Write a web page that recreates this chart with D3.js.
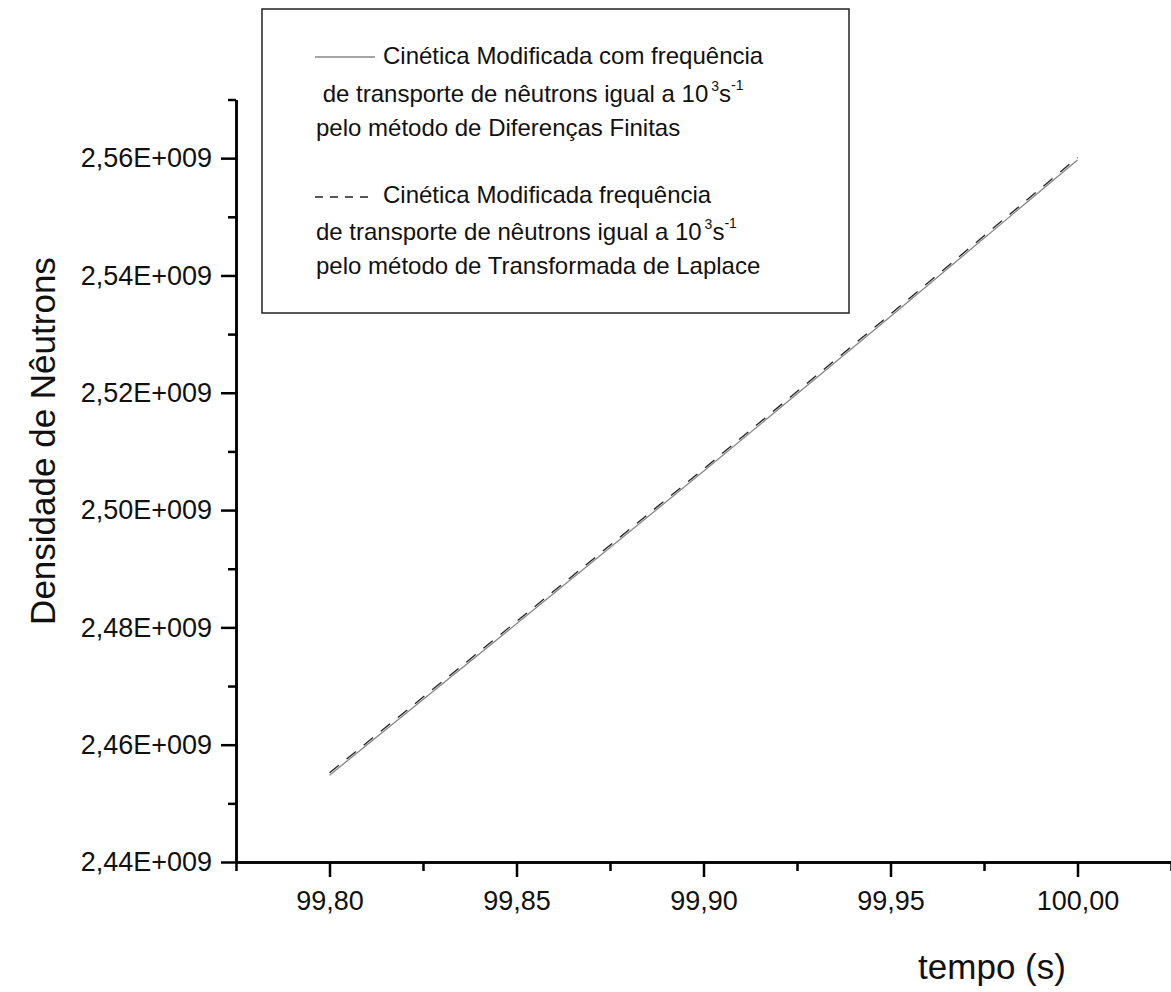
<!DOCTYPE html>
<html>
<head>
<meta charset="utf-8">
<script src="https://cdn.jsdelivr.net/npm/d3@7"></script>
<style>
  html, body { margin: 0; padding: 0; background: #fff; }
  svg { display: block; font-family: "Liberation Sans", Arial, sans-serif; }
</style>
</head>
<body>
<div id="chart"></div>
<script>
// values
const tempo = [99.80, 99.85, 99.90, 99.95, 100.00];
const diferencasFinitas = [2.4548e9, 2.4806e9, 2.5066e9, 2.5330e9, 2.5597e9];
const transformadaLaplace = [2.4552e9, 2.4810e9, 2.5070e9, 2.5334e9, 2.5601e9];

const xTicks = [99.80, 99.85, 99.90, 99.95, 100.00];
const xMinorTicks = [99.775, 99.825, 99.875, 99.925, 99.975, 100.025];
const yTicks = [2.44e9, 2.46e9, 2.48e9, 2.50e9, 2.52e9, 2.54e9, 2.56e9];
const yMinorTicks = [2.45e9, 2.47e9, 2.49e9, 2.51e9, 2.53e9, 2.55e9, 2.57e9];

const width = 1171;
const height = 992;

const svg = d3.select('#chart').append('svg')
  .attr('width', width)
  .attr('height', height);

const x = d3.scaleLinear().domain([99.775, 100.025]).range([236, 1171]);
const y = d3.scaleLinear().domain([2.44e9, 2.57e9]).range([862, 99.5]);

const fmtX = d => d.toFixed(2).replace('.', ',');
const fmtY = d => (d / 1e9).toFixed(2).replace('.', ',') + 'E+009';

function styleAxis(g) {
  g.selectAll('path.domain').attr('stroke', '#000').attr('stroke-width', 2.5);
  g.selectAll('.tick line').attr('stroke', '#000').attr('stroke-width', 2.5);
  g.selectAll('.tick text').attr('fill', '#111').attr('font-size', 27)
    .attr('font-family', '"Liberation Sans", Arial, sans-serif');
}

// minor ticks first, then majors with labels
svg.append('g')
  .attr('transform', `translate(0,${y(2.44e9)})`)
  .call(d3.axisBottom(x).tickValues(xMinorTicks).tickSize(9).tickSizeOuter(0).tickFormat(''))
  .call(styleAxis);
svg.append('g')
  .attr('transform', `translate(0,${y(2.44e9)})`)
  .call(d3.axisBottom(x).tickValues(xTicks).tickSize(15).tickSizeOuter(0).tickPadding(14).tickFormat(fmtX))
  .call(styleAxis);

svg.append('g')
  .attr('transform', `translate(${x(99.775)},0)`)
  .call(d3.axisLeft(y).tickValues(yMinorTicks).tickSize(8).tickSizeOuter(0).tickFormat(''))
  .call(styleAxis);
svg.append('g')
  .attr('transform', `translate(${x(99.775)},0)`)
  .call(d3.axisLeft(y).tickValues(yTicks).tickSize(15).tickSizeOuter(0).tickPadding(9).tickFormat(fmtY))
  .call(styleAxis);

// axis titles
svg.append('text')
  .attr('x', 992).attr('y', 979)
  .attr('text-anchor', 'middle')
  .attr('font-size', 35)
  .attr('fill', '#111')
  .text('tempo (s)');

svg.append('text')
  .attr('transform', 'translate(55,441) rotate(-90)')
  .attr('text-anchor', 'middle')
  .attr('font-size', 35)
  .attr('fill', '#111')
  .text('Densidade de Nêutrons');

// series
const line = d3.line()
  .x((d, i) => x(tempo[i]))
  .y(d => y(d));

svg.append('path')
  .datum(diferencasFinitas)
  .attr('fill', 'none')
  .attr('stroke', '#888')
  .attr('stroke-width', 1.3)
  .attr('d', line);

svg.append('path')
  .datum(transformadaLaplace)
  .attr('fill', 'none')
  .attr('stroke', '#222')
  .attr('stroke-width', 1.3)
  .attr('stroke-dasharray', '12,10')
  .attr('d', line);

// legend
const legend = svg.append('g');
legend.append('rect')
  .attr('x', 262).attr('y', 9)
  .attr('width', 587).attr('height', 304)
  .attr('fill', '#fff')
  .attr('stroke', '#222')
  .attr('stroke-width', 1.5);

legend.append('line')
  .attr('x1', 315).attr('x2', 375).attr('y1', 57).attr('y2', 57)
  .attr('stroke', '#888').attr('stroke-width', 1.3);
legend.append('line')
  .attr('x1', 315).attr('x2', 375).attr('y1', 197).attr('y2', 197)
  .attr('stroke', '#222').attr('stroke-width', 1.3)
  .attr('stroke-dasharray', '8,7');

function legendText(tx, ty, str) {
  return legend.append('text')
    .attr('x', tx).attr('y', ty)
    .attr('font-size', 24)
    .attr('fill', '#111')
    .text(str);
}

function freqLine(tx, ty, prefix) {
  const t = legendText(tx, ty, prefix + '10');
  t.append('tspan').attr('font-size', 14).attr('dy', -11).attr('dx', 3).text('3');
  t.append('tspan').attr('dy', 11).text('s');
  t.append('tspan').attr('font-size', 14).attr('dy', -12).text('-1');
}

legendText(383, 64, 'Cinética Modificada com frequência');
freqLine(316, 102, '\u00a0de transporte de nêutrons igual a ');
legendText(316, 136, 'pelo método de Diferenças Finitas');

legendText(383, 203, 'Cinética Modificada frequência');
freqLine(316, 240, 'de transporte de nêutrons igual a ');
legendText(316, 274, 'pelo método de Transformada de Laplace');
</script>
</body>
</html>
